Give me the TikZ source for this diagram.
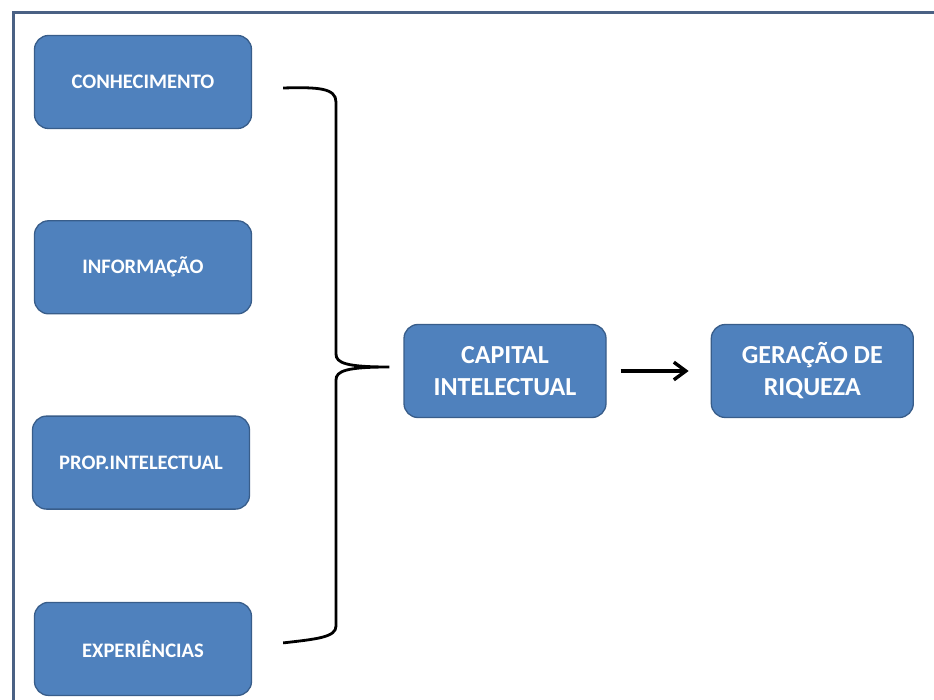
\documentclass[tikz,border=0pt]{standalone}
\usepackage{fontspec}
\setmainfont{Carlito}
\usepackage{tikz}
\usetikzlibrary{arrows.meta,positioning,calc}
\definecolor{boxfill}{HTML}{4F81BD}
\definecolor{boxline}{HTML}{385D8A}
\definecolor{framecol}{HTML}{4A6184}
\tikzset{
  >={Straight Barb[length=4.2mm,width=6.2mm]},
  entry/.style={draw=boxline, fill=boxfill, line width=1.3pt, rounded corners=14pt, minimum width=217pt, minimum height=93pt, align=center, text=white, font=\fontsize{20.6}{24}\selectfont\bfseries},
  result/.style={entry, minimum width=202pt, minimum height=93pt, font=\fontsize{26}{32}\selectfont\bfseries},
  brace/.style={draw, line width=2.8pt},
}

\begin{document}
\begin{tikzpicture}[x=1pt, y=-1pt, node distance=91pt and 104pt]
  \clip (0,0) rectangle (934,700);
  \fill[white] (0,0) rectangle (934,700);
  \draw[framecol, line width=3pt] (13,720) -- (13,13) -- (950,13);

  \node[entry] (con) at (143,82) {CONHECIMENTO};
  \node[entry, below=of con] (inf) {INFORMAÇÃO};
  \node[entry, below=101pt of inf, xshift=-2pt] (prop) {PROP.INTELECTUAL};
  \node[entry, below=92pt of prop, xshift=2pt] (exp) {EXPERIÊNCIAS};
  \node[result] (cap) at (505,371) {CAPITAL\\INTELECTUAL};
  \node[result, right=of cap] (ger) {GERAÇÃO DE\\RIQUEZA};

  % chave
  \coordinate (top) at ($(con.east)+(31,6)$);
  \coordinate (bot) at ($(exp.east)+(31,-6)$);
  \coordinate (tip) at ($(cap.west)+(-14,-4)$);
  \draw[brace] (top) .. controls (318,87) and (336,88) .. (336,102) -- (336,354)
    .. controls (336,363) and (346,367) .. (tip)
    .. controls (346,367) and (336,371) .. (336,380) -- (336,626)
    .. controls (336,637) and (318,639) .. (bot);

  \draw[->, line width=3.4pt, shorten <=14pt, shorten >=22pt] (cap) -- (ger);
\end{tikzpicture}
\end{document}
